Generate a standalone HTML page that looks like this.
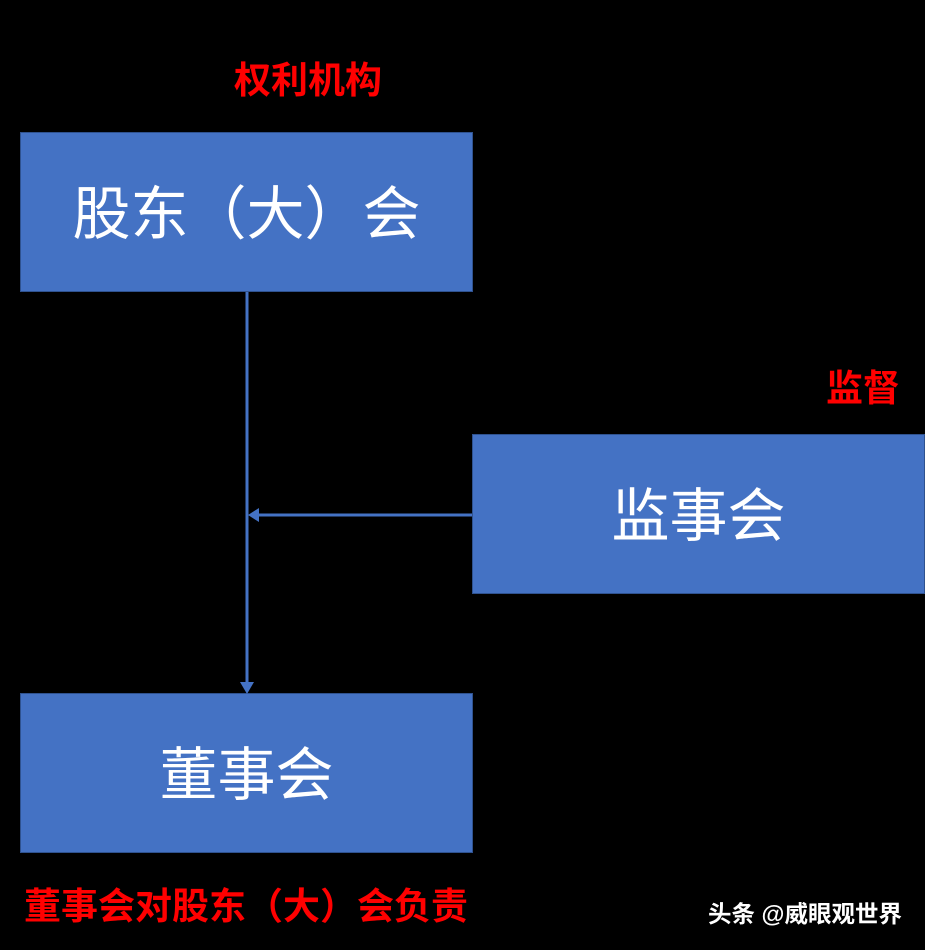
<!DOCTYPE html>
<html><head><meta charset="utf-8"><style>
body{margin:0;width:925px;height:950px;background:#000;position:relative;overflow:hidden;font-family:"Liberation Sans","Noto Sans CJK SC",sans-serif}
.box{position:absolute;background:#4472C4;border:1.5px solid #2F528F;box-sizing:border-box;color:#fff;font-size:58px;display:flex;align-items:center;justify-content:center;padding-bottom:6px}
.red{position:absolute;color:#FF0000;font-weight:bold;font-size:37px;white-space:nowrap;line-height:1}
</style></head><body>
<div class="red" style="left:234px;top:62px">权利机构</div>
<div class="box" style="left:20px;top:132px;width:453px;height:160px">股东（大）会</div>
<div class="red" style="left:826px;top:370px">监督</div>
<div class="box" style="left:472px;top:434px;width:453px;height:160px">监事会</div>
<div class="box" style="left:20px;top:693px;width:453px;height:160px">董事会</div>
<svg style="position:absolute;left:0;top:0" width="925" height="950">
<line x1="247" y1="292" x2="247" y2="683" stroke="#4472C4" stroke-width="3"/>
<polygon points="240,682 254,682 247,694" fill="#4472C4"/>
<line x1="472" y1="515" x2="258" y2="515" stroke="#4472C4" stroke-width="3"/>
<polygon points="259,508 259,522 248,515" fill="#4472C4"/>
</svg>
<div class="red" style="left:24px;top:888px">董事会对股东（大）会负责</div>
<div style="position:absolute;left:708px;top:903px;color:#fff;font-size:23.5px;font-weight:bold;line-height:1;white-space:nowrap">头条 @威眼观世界</div>
</body></html>
